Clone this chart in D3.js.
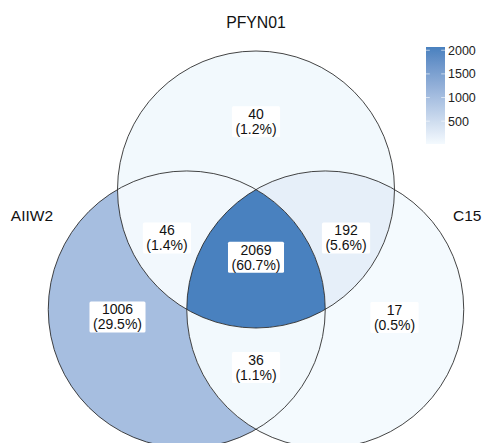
<!DOCTYPE html>
<html><head><meta charset="utf-8">
<script src="https://cdn.jsdelivr.net/npm/d3@7"></script>
<style>body{margin:0;background:#fff}svg{display:block}text{font-family:"Liberation Sans",Arial,Helvetica,sans-serif}</style>
</head><body>
<svg id="chart" width="492" height="443"></svg>
<script>
// ---- data ----
const setNames = ["AIIW2", "PFYN01", "C15"];
const regionMembers = [["PFYN01"], ["AIIW2","PFYN01"], ["AIIW2","PFYN01","C15"], ["PFYN01","C15"], ["AIIW2"], ["C15"], ["AIIW2","C15"]];
const regionCounts = [40, 46, 2069, 192, 1006, 17, 36];
const regionPercents = ["1.2%", "1.4%", "60.7%", "5.6%", "29.5%", "0.5%", "1.1%"];
const legendTicks = [500, 1000, 1500, 2000];

// ---- layout (unit circle coordinates) ----
const centers = {PFYN01: [0, 0], AIIW2: [-0.5, 0.866], C15: [0.5, 0.866]};
const labelPos = [[0, -0.49], [-0.643, 0.35], [0, 0.49], [0.65, 0.35], [-1.0, 0.92], [1.0, 0.925], [0, 1.285]];
const R = 138.5, CX = 256, CY = 189.5;
const sx = d3.scaleLinear().domain([0, 1]).range([CX, CX + R]);
const sy = d3.scaleLinear().domain([0, 1]).range([CY, CY + R]);
const W = 492, H = 443;

const svg = d3.select("#chart");
const defs = svg.append("defs");
const color = d3.scaleLinear().domain(d3.extent(regionCounts)).range(["#F4FAFE", "#4981BF"]).interpolate(d3.interpolateLab);

setNames.forEach((s, i) => {
  defs.append("clipPath").attr("id", "clip" + i)
    .append("circle").attr("cx", sx(centers[s][0])).attr("cy", sy(centers[s][1])).attr("r", R);
});

regionMembers.forEach((mem, ri) => {
  const mask = defs.append("mask").attr("id", "mask" + ri).attr("maskUnits", "userSpaceOnUse")
    .attr("x", 0).attr("y", 0).attr("width", W).attr("height", H);
  mask.append("rect").attr("width", W).attr("height", H).attr("fill", "#fff");
  setNames.forEach(s => {
    if (!mem.includes(s)) mask.append("circle").attr("cx", sx(centers[s][0])).attr("cy", sy(centers[s][1])).attr("r", R).attr("fill", "#000");
  });
  let g = svg.append("g");
  mem.forEach(s => { g = g.append("g").attr("clip-path", "url(#clip" + setNames.indexOf(s) + ")"); });
  g.append("rect").attr("width", W).attr("height", H).attr("fill", color(regionCounts[ri])).attr("mask", "url(#mask" + ri + ")");
});

svg.append("g").selectAll("circle").data(setNames).join("circle")
  .attr("cx", s => sx(centers[s][0])).attr("cy", s => sy(centers[s][1])).attr("r", R)
  .attr("fill", "none").attr("stroke", "#222").attr("stroke-width", 0.85);

// region labels
const lg = svg.append("g");
regionCounts.forEach((c, i) => {
  const x = sx(labelPos[i][0]), y = sy(labelPos[i][1]);
  const g = lg.append("g");
  const rect = g.append("rect").attr("fill", "#fff").attr("rx", 1.5);
  g.append("text").attr("text-anchor", "middle").attr("font-size", 14).attr("fill", "#111")
    .attr("x", x).attr("y", y - 2.5).text(c);
  const t2 = g.append("text").attr("text-anchor", "middle").attr("font-size", 14).attr("fill", "#111")
    .attr("x", x).attr("y", y + 12.5).text("(" + regionPercents[i] + ")");
  const bb = t2.node().getBBox();
  rect.attr("x", bb.x - 3.5).attr("y", y - 15.5).attr("width", bb.width + 7).attr("height", 31);
});

// set names
svg.append("text").attr("x", sx(0)).attr("y", 28).attr("text-anchor", "middle").attr("font-size", 15.8).attr("fill", "#111").text(setNames[1]);
svg.append("text").attr("x", 53).attr("y", 221).attr("text-anchor", "end").attr("font-size", 15.5).attr("fill", "#111").text(setNames[0]);
svg.append("text").attr("x", 453).attr("y", 221).attr("text-anchor", "start").attr("font-size", 15.5).attr("fill", "#111").text(setNames[2]);

// legend
const ly = d3.scaleLinear().domain(d3.extent(regionCounts)).range([144, 47]);
const grad = defs.append("linearGradient").attr("id", "lgrad").attr("x1", 0).attr("y1", 1).attr("x2", 0).attr("y2", 0);
d3.range(0, 1.0001, 0.1).forEach(t => {
  grad.append("stop").attr("offset", t).attr("stop-color", color(ly.domain()[0] + t * (ly.domain()[1] - ly.domain()[0])));
});
const legX = 426, legW = 19;
svg.append("rect").attr("x", legX).attr("y", ly.range()[1]).attr("width", legW).attr("height", ly.range()[0] - ly.range()[1]).attr("fill", "url(#lgrad)");
const tg = svg.append("g").selectAll("g").data(legendTicks).join("g");
tg.append("line").attr("x1", legX).attr("x2", legX + 3.8).attr("y1", d => ly(d)).attr("y2", d => ly(d)).attr("stroke", "#fff").attr("stroke-width", 0.6);
tg.append("line").attr("x1", legX + legW - 3.8).attr("x2", legX + legW).attr("y1", d => ly(d)).attr("y2", d => ly(d)).attr("stroke", "#fff").attr("stroke-width", 0.6);
tg.append("text").attr("x", legX + legW + 3).attr("y", d => ly(d)).attr("dy", "0.36em").attr("font-size", 12.5).attr("fill", "#222").text(d => d);
</script>
</body></html>
